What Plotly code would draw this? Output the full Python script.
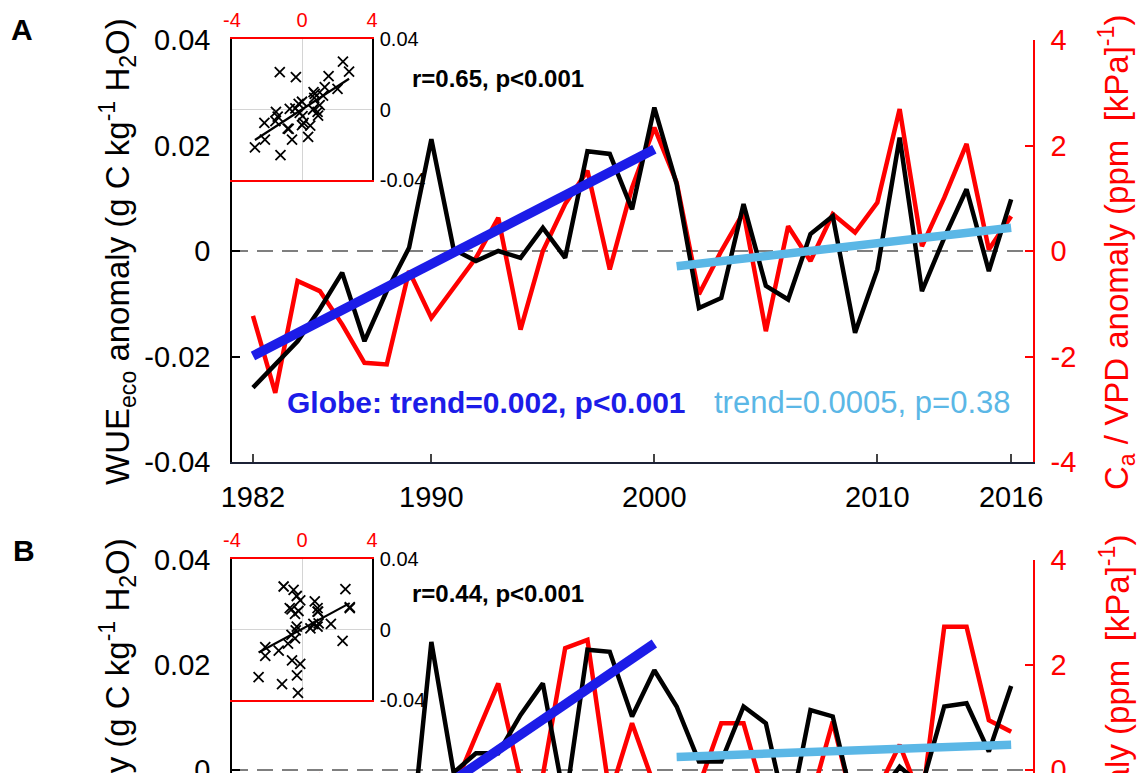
import numpy as np
import plotly.graph_objects as go

W, H = 1145, 773
FONT = "Liberation Sans, Arial, Helvetica, sans-serif"

years = list(range(1982, 2017))

# ---------------- Panel A ----------------
wue_a = [-0.0259, -0.0215, -0.0171, -0.0110, -0.0041, -0.0171, -0.0076, 0.0006, 0.0212,
         0.0003, -0.0019, 0.0000, -0.0013, 0.0044, -0.0013, 0.0189, 0.0184, 0.0079, 0.0272,
         0.0127, -0.0108, -0.0089, 0.0089, -0.0066, -0.0092, 0.0032, 0.0066, -0.0155,
         -0.0035, 0.0215, -0.0076, 0.0025, 0.0117, -0.0038, 0.0098]
ca_vpd_a = [-1.23, -2.69, -0.57, -0.76, -1.39, -2.12, -2.15, -0.38, -1.27, -0.70, -0.13,
            0.63, -1.49, 0.00, 0.89, 1.52, -0.35, 1.20, 2.34,
            1.30, -0.82, 0.00, 0.73, -1.52, 0.47, -0.19, 0.70, 0.35, 0.92, 2.69, 0.09,
            1.01, 2.03, 0.03, 0.66]
trend_a1_years = [1982, 2000]
trend_a1 = [-0.0199, 0.0193]
trend_a2_years = [2001, 2016]
trend_a2 = [-0.0029, 0.0044]

# ---------------- Panel B ----------------
wue_b = [-0.027, -0.031, -0.026, -0.0195, -0.036, -0.015, -0.012, -0.0175, 0.0244,
         -0.0005, 0.0032, 0.0032, 0.0105, 0.0165, -0.0065, 0.0229, 0.0225, 0.0102, 0.0190,
         0.0121, 0.0016, 0.0016, 0.0121, 0.0089, -0.010, 0.0114, 0.0102, -0.008, -0.005,
         0.0006, -0.003, 0.0121, 0.0127, 0.0035, 0.0160]
ca_vpd_b = [-2.48, -1.14, -0.29, -0.10, -0.23, -2.10, -1.33, -0.57, -1.05, -0.36, 0.65,
            1.65, -0.20, -0.10, 2.32, 2.48, -0.48, 0.89, -0.30,
            -0.70, -0.30, 0.89, 0.89, -0.40, -2.10, -0.60, 0.92, -0.80, -0.40, 0.48,
            -0.60, 2.73, 2.73, 0.95, 0.73]
trend_b1_years = [1982, 2000]
trend_b1 = [-0.028, 0.0241]
trend_b2_years = [2001, 2016]
trend_b2 = [0.0025, 0.0048]

year_ticks = [1982, 1990, 2000, 2010, 2016]
wue_ticks = [-0.04, -0.02, 0, 0.02, 0.04]
wue_tick_text = ["-0.04", "-0.02", "0", "0.02", "0.04"]
ca_ticks = [-4, -2, 0, 2, 4]
ca_tick_text = ["-4", "-2", "0", "2", "4"]
inset_x_ticks = [-4, 0, 4]
inset_x_text = ["-4", "0", "4"]
inset_y_ticks = [-0.04, 0, 0.04]
inset_y_text = ["-0.04", "0", "0.04"]

RED = "#ff0000"
BLUE = "#1c1ce8"
LBLUE = "#5bb7e6"


def px(x):
    return x / W


def py(y):
    return 1 - y / H


fig = go.Figure()


def add_panel(xa, ybase, yover, wue, ca, t1y, t1, t2y, t2):
    fig.add_trace(go.Scatter(x=years, y=ca, mode="lines", line=dict(color=RED, width=4.5),
                             xaxis=xa, yaxis=ybase, showlegend=False))
    fig.add_trace(go.Scatter(x=years, y=wue, mode="lines", line=dict(color="black", width=4.5),
                             xaxis=xa, yaxis=yover, showlegend=False))
    fig.add_trace(go.Scatter(x=t1y, y=t1, mode="lines", line=dict(color=BLUE, width=9.5),
                             xaxis=xa, yaxis=yover, showlegend=False))
    fig.add_trace(go.Scatter(x=t2y, y=t2, mode="lines", line=dict(color=LBLUE, width=8.5),
                             xaxis=xa, yaxis=yover, showlegend=False))


def add_inset(xa, ya, wue, ca):
    fig.add_trace(go.Scatter(x=ca, y=wue, mode="markers",
                             marker=dict(symbol="x-thin", size=10, color="black",
                                         line=dict(width=1.8, color="black")),
                             xaxis=xa, yaxis=ya, showlegend=False))
    k, b = np.polyfit(ca, wue, 1)
    xs = np.array([min(ca), max(ca)])
    fig.add_trace(go.Scatter(x=xs, y=k * xs + b, mode="lines",
                             line=dict(color="black", width=2.2),
                             xaxis=xa, yaxis=ya, showlegend=False))


add_panel("x", "y", "y2", wue_a, ca_vpd_a, trend_a1_years, trend_a1, trend_a2_years, trend_a2)
add_panel("x2", "y3", "y4", wue_b, ca_vpd_b, trend_b1_years, trend_b1, trend_b2_years, trend_b2)
add_inset("x3", "y5", wue_a, ca_vpd_a)
add_inset("x4", "y6", wue_b, ca_vpd_b)

xdom = [px(232), px(1033)]
xr = [1981.06, 2016.98]
ya_dom = [py(462), py(40)]
yb_dom = [0, py(560)]
b_low = -3 / 5250.0

tickfont = dict(family=FONT, size=29, color="black")
redfont = dict(family=FONT, size=29, color=RED)

common_y = dict(showgrid=False, zeroline=False, ticks="inside", ticklen=8, tickwidth=1.5,
                showline=True, linewidth=1.5, automargin=False, ticklabeloverflow="allow")

layout = dict(
    width=W, height=H,
    margin=dict(l=0, r=0, t=0, b=0, autoexpand=False),
    paper_bgcolor="white", plot_bgcolor="white",
    font=dict(family=FONT),
    xaxis=dict(domain=xdom, range=xr, anchor="y", tickvals=year_ticks, ticks="inside",
               ticklen=8, tickwidth=1.5, showline=True, linecolor="#1c2236", linewidth=1.5,
               showgrid=False, zeroline=False, tickfont=tickfont, ticklabelstandoff=8,
               automargin=False),
    yaxis=dict(domain=ya_dom, range=[-4, 4], side="right", anchor="x", tickvals=ca_ticks,
               ticktext=ca_tick_text, linecolor=RED, tickcolor=RED, tickfont=redfont,
               ticklabelstandoff=10, **common_y),
    yaxis2=dict(range=[-0.04, 0.04], overlaying="y", side="left", anchor="x",
                tickvals=wue_ticks, ticktext=wue_tick_text, linecolor="black",
                tickcolor="black", tickfont=tickfont, ticklabelstandoff=14, **common_y),
    xaxis2=dict(domain=xdom, range=xr, anchor="y3", showline=False, showticklabels=False,
                ticks="", showgrid=False, zeroline=False, automargin=False),
    yaxis3=dict(domain=yb_dom, range=[b_low * 100, 4], side="right", anchor="x2",
                tickvals=ca_ticks, ticktext=ca_tick_text, linecolor=RED, tickcolor=RED,
                tickfont=redfont, ticklabelstandoff=10, **common_y),
    yaxis4=dict(range=[b_low, 0.04], overlaying="y3", side="left", anchor="x2",
                tickvals=wue_ticks, ticktext=wue_tick_text, linecolor="black",
                tickcolor="black", tickfont=tickfont, ticklabelstandoff=14, **common_y),
)

inset_common_x = dict(range=[-4, 4], side="top", tickvals=inset_x_ticks, ticktext=inset_x_text,
                      tickfont=dict(family=FONT, size=20, color=RED), showline=True,
                      linecolor=RED, linewidth=1.5, mirror=True, showgrid=True,
                      gridcolor="#d4d4d4", gridwidth=1, zeroline=False, ticks="",
                      ticklabelstandoff=2, automargin=False)
inset_common_y = dict(range=[-0.04, 0.04], side="right", tickvals=inset_y_ticks,
                      ticktext=inset_y_text, tickfont=dict(family=FONT, size=20, color="black"),
                      showline=True, linecolor="black", linewidth=1.5, mirror=True,
                      showgrid=True, gridcolor="#d4d4d4", gridwidth=1, zeroline=False,
                      ticks="", ticklabelstandoff=2, automargin=False)
layout["xaxis3"] = dict(domain=[px(232), px(372)], anchor="y5", **inset_common_x)
layout["yaxis5"] = dict(domain=[py(180), py(39)], anchor="x3", **inset_common_y)
layout["xaxis4"] = dict(domain=[px(232), px(372)], anchor="y6", **inset_common_x)
layout["yaxis6"] = dict(domain=[py(700), py(559)], anchor="x4", **inset_common_y)

fig.update_layout(**layout)

# dashed zero reference lines
for xr_, yr_ in [("x domain", "y2"), ("x2 domain", "y4")]:
    fig.add_shape(type="line", xref=xr_, yref=yr_, x0=0, x1=1, y0=0, y1=0, layer="below",
                  line=dict(color="#555555", width=1.5, dash="16px,9px"))

ann = []


def A(text, x, y, size, color="black", xanchor="center", angle=0, bold=False):
    t = f"<b>{text}</b>" if bold else text
    ann.append(dict(text=t, x=px(x), y=py(y), xref="paper", yref="paper", showarrow=False,
                    xanchor=xanchor, yanchor="middle", textangle=angle,
                    font=dict(family=FONT, size=size, color=color)))


left_title = "WUE<sub>eco</sub> anomaly (g C kg<sup>-1</sup> H<sub>2</sub>O)"
right_title = "C<sub>a</sub> / VPD anomaly (ppm  [kPa]<sup>-1</sup>)"

A("A", 22, 30, 30, bold=True)
A("B", 24, 550, 30, bold=True)
A("r=0.65, p<0.001", 410, 78, 24, xanchor="left", bold=True)
A("r=0.44, p<0.001", 410, 593, 24, xanchor="left", bold=True)
A("Globe: trend=0.002, p<0.001", 285, 402, 30, color=BLUE, xanchor="left", bold=True)
A("trend=0.0005, p=0.38", 712, 402, 31, color=LBLUE, xanchor="left")
A(left_title, 117, 252, 33, angle=-90)
A(right_title, 1117, 253, 33, color=RED, angle=-90)
A(left_title, 117, 772, 33, angle=-90)
A(right_title, 1117, 773, 33, color=RED, angle=-90)

fig.update_layout(annotations=ann)

fig.write_html("out.html", config={"displayModeBar": False},
               post_script="document.body.style.margin='0';document.body.style.overflow='hidden';")
